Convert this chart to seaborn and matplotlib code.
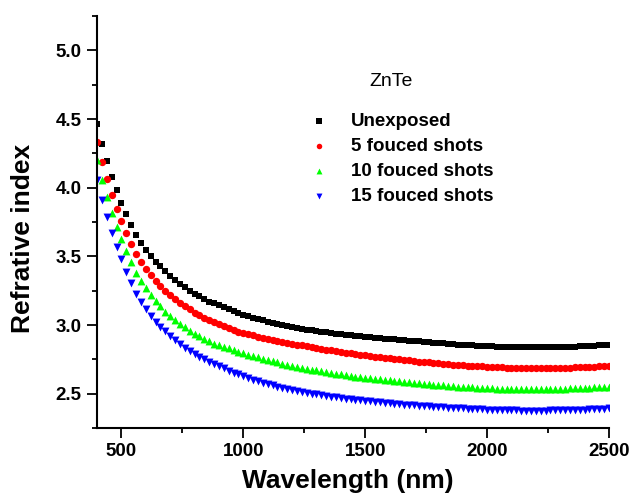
import pandas as pd
import matplotlib
matplotlib.use('Agg')
import matplotlib.pyplot as plt
from matplotlib.ticker import MultipleLocator, AutoMinorLocator
import seaborn as sns

# wavelength grid of the measurement (nm)
wavelength = list(range(400, 2520, 20))

unexposed = [
    4.467, 4.321, 4.192, 4.078, 3.981, 3.889, 3.806, 3.726, 3.656, 3.598,
    3.549, 3.503, 3.462, 3.428, 3.392, 3.357, 3.328, 3.302, 3.275, 3.251,
    3.229, 3.210, 3.190, 3.171, 3.161,
    3.148, 3.134, 3.118, 3.100, 3.088, 3.076, 3.065, 3.054, 3.044, 3.034,
    3.025, 3.016, 3.008, 3.000, 2.993, 2.986, 2.979, 2.973, 2.967, 2.961,
    2.956, 2.951, 2.946, 2.941, 2.937, 2.933, 2.929, 2.925, 2.921, 2.917,
    2.914, 2.910, 2.907, 2.904, 2.901, 2.898, 2.895, 2.892, 2.889, 2.886,
    2.883, 2.880, 2.877, 2.874, 2.872, 2.869, 2.866, 2.863, 2.861, 2.858,
    2.856, 2.854, 2.851, 2.849, 2.847, 2.845, 2.844, 2.842, 2.841, 2.840,
    2.839, 2.838, 2.838, 2.837, 2.837, 2.837, 2.837, 2.838, 2.838, 2.839,
    2.840, 2.841, 2.842, 2.843, 2.844, 2.846, 2.847, 2.849, 2.851, 2.853,
    2.855,
]

shots_5 = [
    4.333, 4.187, 4.061, 3.947, 3.848, 3.755, 3.670, 3.593, 3.520, 3.459,
    3.408, 3.362, 3.324, 3.285, 3.248, 3.217, 3.188, 3.161, 3.137, 3.113,
    3.091, 3.071, 3.052, 3.035, 3.020,
    3.005, 2.990, 2.976, 2.963, 2.952, 2.942, 2.933, 2.924, 2.916, 2.908,
    2.901, 2.893, 2.886, 2.879, 2.872, 2.865, 2.858, 2.852, 2.845, 2.839,
    2.833, 2.827, 2.821, 2.815, 2.810, 2.804, 2.799, 2.794, 2.789, 2.784,
    2.779, 2.775, 2.770, 2.766, 2.762, 2.758, 2.754, 2.750, 2.746, 2.742,
    2.738, 2.734, 2.730, 2.727, 2.724, 2.721, 2.718, 2.715, 2.712, 2.709,
    2.707, 2.704, 2.702, 2.700, 2.698, 2.696, 2.694, 2.693, 2.691, 2.690,
    2.689, 2.688, 2.687, 2.687, 2.686, 2.686, 2.686, 2.686, 2.687, 2.687,
    2.688, 2.689, 2.690, 2.691, 2.692, 2.693, 2.695, 2.696, 2.698, 2.700,
    2.702,
]

shots_10 = [
    4.204, 4.054, 3.930, 3.816, 3.714, 3.624, 3.539, 3.457, 3.382, 3.319,
    3.266, 3.217, 3.173, 3.135, 3.095, 3.064, 3.033, 3.006, 2.982, 2.957,
    2.935, 2.918, 2.899, 2.884, 2.865,
    2.853, 2.841, 2.829, 2.818, 2.807, 2.796, 2.785, 2.775, 2.765, 2.755,
    2.745, 2.736, 2.727, 2.719, 2.711, 2.703, 2.695, 2.688, 2.681, 2.675,
    2.669, 2.663, 2.657, 2.651, 2.645, 2.640, 2.635, 2.630, 2.625, 2.620,
    2.616, 2.612, 2.608, 2.604, 2.600, 2.596, 2.592, 2.589, 2.585, 2.582,
    2.578, 2.575, 2.572, 2.569, 2.566, 2.563, 2.560, 2.557, 2.554, 2.552,
    2.549, 2.547, 2.545, 2.543, 2.541, 2.539, 2.538, 2.536, 2.535, 2.534,
    2.533, 2.533, 2.532, 2.532, 2.532, 2.532, 2.533, 2.533, 2.534, 2.535,
    2.536, 2.537, 2.538, 2.539, 2.541, 2.542, 2.544, 2.546, 2.548, 2.550,
    2.552,
]

shots_15 = [
    4.059, 3.913, 3.787, 3.670, 3.568, 3.477, 3.386, 3.306, 3.229, 3.168,
    3.113, 3.064, 3.020, 2.986, 2.953, 2.918, 2.889, 2.860, 2.833, 2.811,
    2.787, 2.768, 2.751, 2.734, 2.715,
    2.700, 2.684, 2.668, 2.653, 2.640, 2.627, 2.614, 2.602, 2.591, 2.580,
    2.569, 2.560, 2.551, 2.542, 2.534, 2.526, 2.519, 2.512, 2.506, 2.500,
    2.494, 2.488, 2.483, 2.478, 2.473, 2.468, 2.463, 2.459, 2.455, 2.451,
    2.447, 2.443, 2.440, 2.436, 2.433, 2.430, 2.427, 2.424, 2.421, 2.418,
    2.415, 2.412, 2.410, 2.407, 2.405, 2.402, 2.400, 2.398, 2.396, 2.394,
    2.392, 2.390, 2.388, 2.387, 2.385, 2.384, 2.383, 2.381, 2.380, 2.379,
    2.378, 2.378, 2.377, 2.377, 2.377, 2.377, 2.377, 2.377, 2.378, 2.378,
    2.379, 2.380, 2.381, 2.382, 2.383, 2.384, 2.386, 2.387, 2.389, 2.391,
    2.393,
]

labels = ['Unexposed', '5 fouced shots', '10 fouced shots', '15 fouced shots']
series = [unexposed, shots_5, shots_10, shots_15]
colors = ['#000000', '#ff0000', '#00ff00', '#0000ff']
markers = ['s', 'o', '^', 'v']
sizes = [24, 28, 32, 32]

sns.set_style('ticks')
plt.rcParams['font.family'] = ['Liberation Sans', 'DejaVu Sans']
plt.rcParams['font.weight'] = 'bold'
for key in ['text.color', 'axes.labelcolor', 'xtick.color', 'ytick.color',
            'axes.edgecolor']:
    plt.rcParams[key] = 'black'

fig = plt.figure(figsize=(6.3, 4.94), dpi=100)
ax = fig.add_axes([97 / 630, 1 - 428 / 494, 512 / 630, 412 / 494])

for lab, vals, col, mk, sz in zip(labels, series, colors, markers, sizes):
    df = pd.DataFrame({'Wavelength': wavelength, 'n': vals})
    sns.scatterplot(data=df, x='Wavelength', y='n', ax=ax, color=col,
                    marker=mk, s=sz, linewidth=0, label=lab)

ax.set_xlim(400, 2500)
ax.set_ylim(2.25, 5.25)
ax.xaxis.set_major_locator(MultipleLocator(500))
ax.xaxis.set_minor_locator(AutoMinorLocator(2))
ax.yaxis.set_major_locator(MultipleLocator(0.5))
ax.yaxis.set_minor_locator(AutoMinorLocator(2))

for side in ['top', 'right']:
    ax.spines[side].set_visible(False)
for side in ['left', 'bottom']:
    ax.spines[side].set_linewidth(1.5)
    ax.spines[side].set_color('black')

ax.tick_params(which='major', direction='out', length=7, width=1.3,
               labelsize=13.5, pad=4, color='black', labelcolor='black')
ax.tick_params(which='minor', direction='out', length=3.5, width=1.3,
               color='black')
for t in ax.get_xticklabels() + ax.get_yticklabels():
    t.set_fontweight('bold')

ax.set_xlabel('Wavelength (nm)', fontsize=19, fontweight='bold', color='black')
ax.set_ylabel('Refrative index', fontsize=19, fontweight='bold', color='black')
ax.xaxis.label.set_va('center')
ax.yaxis.label.set_va('center')
ax.xaxis.set_label_coords(0.49, -0.129)
ax.yaxis.set_label_coords(-0.145, 0.459)

ax.text(0.574, 0.840, 'ZnTe', transform=ax.transAxes, fontsize=14,
        fontweight='normal', ha='center', va='center', color='black')

leg = ax.legend(loc='upper left', bbox_to_anchor=(0.411, 0.765),
                frameon=False, fontsize=13.5, markerscale=0.75,
                handlelength=1.2, handletextpad=1.1, labelspacing=0.42,
                borderpad=0, borderaxespad=0, scatterpoints=1)
for t in leg.get_texts():
    t.set_fontweight('bold')
    t.set_color('black')

fig.savefig('out.png', dpi=100)
